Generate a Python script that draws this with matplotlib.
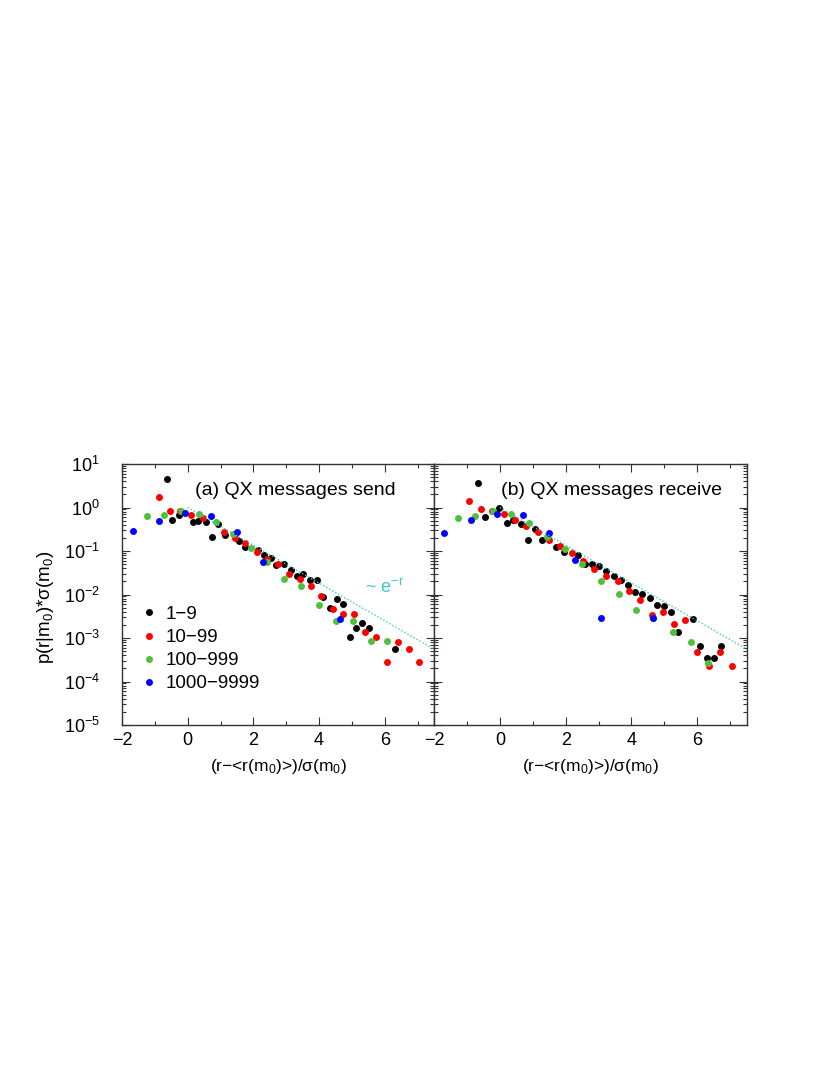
# QX messages: scaled distributions of r for four m0 groups

import numpy as np
import matplotlib as mpl
import matplotlib.pyplot as plt
from matplotlib.ticker import LogLocator, MultipleLocator, NullFormatter

plt.rcParams['font.family'] = ['Liberation Sans', 'DejaVu Sans']
plt.rcParams['mathtext.fontset'] = 'custom'
plt.rcParams['mathtext.rm'] = 'Liberation Sans'
plt.rcParams['mathtext.it'] = 'Liberation Sans:italic'
plt.rcParams['mathtext.bf'] = 'Liberation Sans:bold'

groups = ['1\u22129', '10\u221299', '100\u2212999', '1000\u22129999']
colors = ['black', '#ff0000', '#4fbf3c', '#0000ff']

# (a) send
send_x_1 = [-0.64, -0.47, -0.26, 0.15, 0.32, 0.55, 0.75, 0.93, 1.13, 1.57, 1.74, 2.15, 2.33, 2.53, 2.70,
            2.93, 3.14, 3.33, 3.52, 3.73, 3.93, 4.12, 4.33, 4.55, 4.74, 4.93, 5.13, 5.32, 5.52, 6.32]
send_y_1 = [4.5, 0.52, 0.69, 0.46, 0.50, 0.46, 0.21, 0.41, 0.23, 0.166, 0.123, 0.106, 0.079, 0.070, 0.047,
            0.051, 0.037, 0.026, 0.029, 0.021, 0.021, 0.0089, 0.0049, 0.0077, 0.0061, 0.00108, 0.00166, 0.0022,
            0.00166, 0.00055]
send_x_2 = [-0.88, -0.54, -0.23, 0.10, 0.46, 1.11, 1.44, 1.76, 2.10, 2.42, 2.75, 3.09, 3.41, 3.75, 4.07,
            4.42, 4.74, 5.06, 5.41, 5.72, 6.06, 6.39, 6.73, 7.05]
send_y_2 = [1.7, 0.85, 0.82, 0.68, 0.57, 0.27, 0.20, 0.15, 0.094, 0.066, 0.049, 0.029, 0.023, 0.0155, 0.0093,
            0.0047, 0.0036, 0.0036, 0.00136, 0.00108, 0.00028, 0.00082, 0.00055, 0.00028]
send_x_3 = [-1.25, -0.72, -0.20, 0.33, 0.86, 1.37, 1.92, 2.43, 2.94, 3.46, 3.99, 4.51, 5.03, 5.57, 6.08]
send_y_3 = [0.65, 0.66, 0.81, 0.72, 0.46, 0.24, 0.118, 0.055, 0.023, 0.0155, 0.0058, 0.0025, 0.0025,
            0.00087, 0.00087]
send_x_4 = [-1.67, -0.88, -0.07, 0.71, 1.49, 2.30, 4.65]
send_y_4 = [0.285, 0.49, 0.76, 0.63, 0.28, 0.057, 0.0027]

# (b) receive
recv_x_1 = [-0.66, -0.45, -0.02, 0.21, 0.40, 0.63, 0.85, 1.07, 1.29, 1.72, 1.94, 2.36, 2.60, 2.81, 3.02,
            3.24, 3.46, 3.68, 3.89, 4.11, 4.33, 4.55, 4.76, 4.98, 5.20, 5.42, 5.86, 6.08, 6.28, 6.50, 6.73]
recv_y_1 = [3.7, 0.60, 1.0, 0.44, 0.52, 0.41, 0.175, 0.32, 0.175, 0.123, 0.094, 0.079, 0.049, 0.051, 0.046,
            0.034, 0.026, 0.021, 0.0163, 0.0117, 0.0102, 0.0084, 0.0058, 0.0055, 0.0039, 0.00136, 0.0027,
            0.00067, 0.00035, 0.00035, 0.00067]
recv_x_2 = [-0.93, -0.58, -0.24, 0.12, 0.45, 0.80, 1.15, 1.50, 1.82, 2.18, 2.53, 2.87, 3.22, 3.58, 3.92,
            4.25, 4.61, 4.95, 5.30, 5.64, 5.99, 6.34, 6.69, 7.04]
recv_y_2 = [1.4, 0.91, 0.85, 0.72, 0.52, 0.38, 0.27, 0.18, 0.127, 0.089, 0.060, 0.039, 0.027, 0.020, 0.0123,
            0.0073, 0.0033, 0.0039, 0.0021, 0.0026, 0.00047, 0.00023, 0.00047, 0.00023]
recv_x_3 = [-1.28, -0.74, -0.20, 0.33, 0.89, 1.42, 1.98, 2.51, 3.07, 3.61, 4.15, 4.66, 5.25, 5.80, 6.33]
recv_y_3 = [0.58, 0.63, 0.82, 0.72, 0.45, 0.215, 0.112, 0.051, 0.020, 0.0104, 0.0043, 0.0029, 0.00134,
            0.0008, 0.00026]
recv_x_4 = [-1.70, -0.89, -0.10, 0.70, 1.49, 2.28, 3.07, 4.66]
recv_y_4 = [0.26, 0.51, 0.72, 0.69, 0.26, 0.063, 0.0029, 0.0029]

# guide line ~ e^-r
guide_x = [0.0, 7.5]

panels = [
    ('(a) QX messages send', [(send_x_1, send_y_1), (send_x_2, send_y_2), (send_x_3, send_y_3), (send_x_4, send_y_4)]),
    ('(b) QX messages receive', [(recv_x_1, recv_y_1), (recv_x_2, recv_y_2), (recv_x_3, recv_y_3), (recv_x_4, recv_y_4)]),
]

def main():
    fig = plt.figure(figsize=(8.3, 10.75), dpi=100)
    ax1 = fig.add_axes([122/830, 350/1075, 312/830, 261/1075])
    ax2 = fig.add_axes([434/830, 350/1075, 312.7/830, 261/1075])
    cyan = '#3cc8c8'

    for ax, (title, series) in zip([ax1, ax2], panels):
        for (xs, ys), col, lab in zip(series, colors, groups):
            ax.plot(xs, ys, 'o', color=col, markersize=5.0, markeredgewidth=0, label=lab)
        gx = np.linspace(guide_x[0], guide_x[1], 50)
        ax.plot(gx, np.exp(-gx), linestyle=(0, (1, 1.5)), color=cyan, lw=1.0)
        ax.set_yscale('log')
        ax.set_xlim(-2, 7.5)
        ax.set_ylim(1e-5, 10)
        ax.xaxis.set_major_locator(MultipleLocator(2))
        ax.xaxis.set_minor_locator(MultipleLocator(1))
        ax.yaxis.set_major_locator(LogLocator(base=10, numticks=10))
        ax.yaxis.set_minor_locator(LogLocator(base=10, subs=np.arange(2, 10), numticks=20))
        ax.yaxis.set_minor_formatter(NullFormatter())
        ax.tick_params(which='both', direction='in', top=True, right=True, colors='#333333',
                       labelcolor='black', labelsize=13)
        ax.tick_params(which='major', length=6, width=0.8)
        ax.tick_params(which='minor', length=3, width=0.8)
        ax.tick_params(axis='y', pad=16)
        ax.tick_params(axis='x', pad=5)
        for s in ax.spines.values():
            s.set_color('#333333')
            s.set_linewidth(1.0)
        ax.text(0.235 if ax is ax1 else 0.213, 0.897, title, transform=ax.transAxes,
                fontsize=14, va='center', ha='left')
        ax.set_xlabel('(r\u2212<r(m$_0$)>)/\u03c3(m$_0$)', fontsize=12.5, labelpad=6)

    ax2.tick_params(axis='y', labelleft=False)
    ax1.text(0.779, 0.525, '~ e$^{-\\mathrm{r}}$', transform=ax1.transAxes, color=cyan,
             fontsize=13, va='center', ha='left')
    ax1.legend(loc='upper left', bbox_to_anchor=(0.045, 0.485), frameon=False, fontsize=13.5,
               handlelength=0.6, handletextpad=0.6, labelspacing=0.32, borderaxespad=0)
    fig.text(45/830, 1 - 607/1075, 'p(r|m$_0$)*\u03c3(m$_0$)', rotation=90, fontsize=13.5,
             ha='center', va='center')

    plt.savefig('out.png', dpi=100)

if __name__ == '__main__':
    main()
